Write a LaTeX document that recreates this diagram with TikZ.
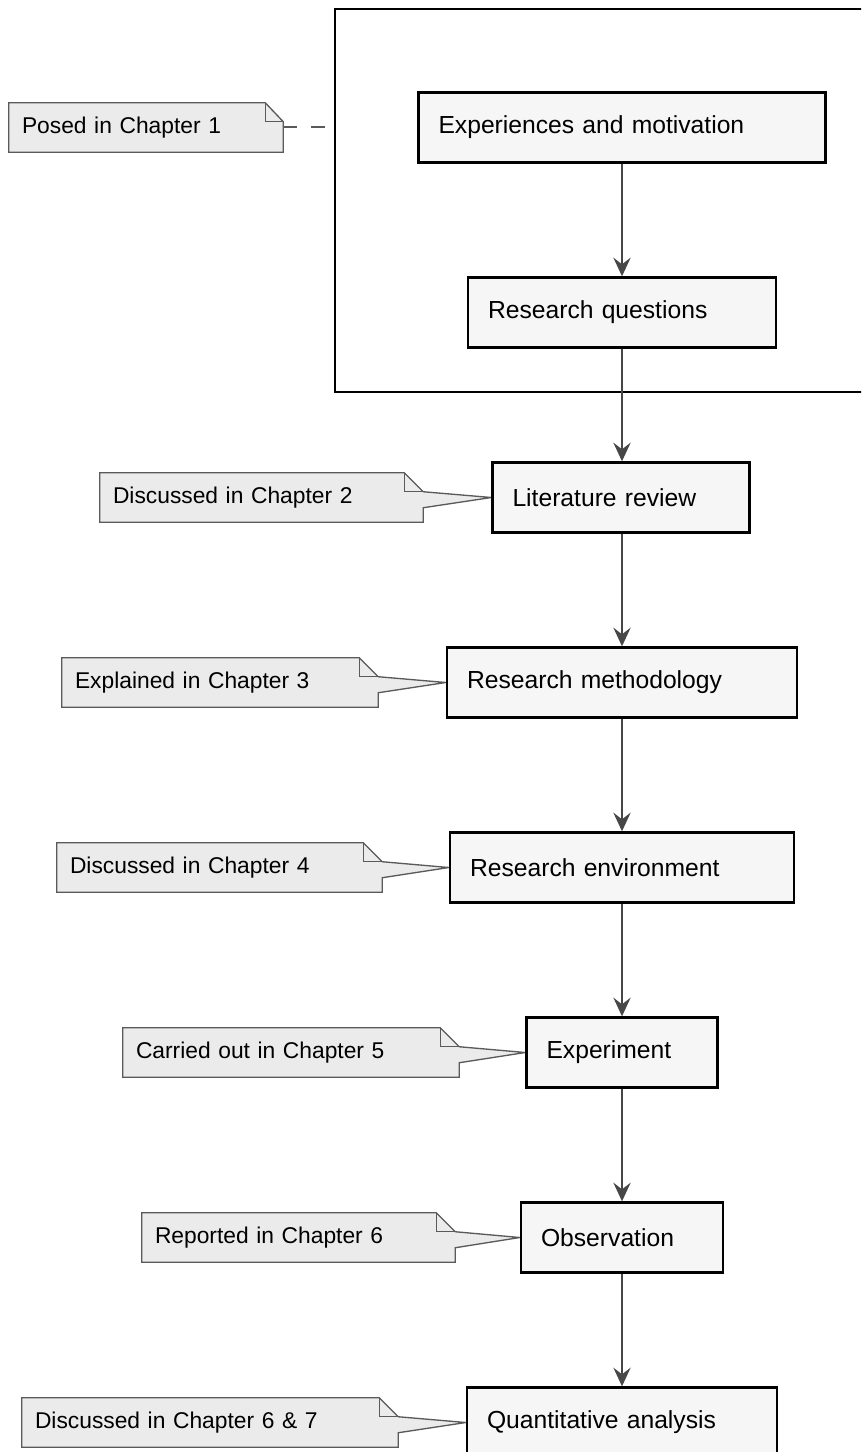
\documentclass[tikz,border=0pt]{standalone}
\usepackage{fontspec}
\setmainfont{Liberation Sans}
\usetikzlibrary{arrows.meta,calc,backgrounds}

\definecolor{boxfill}{HTML}{F6F6F6}
\definecolor{notefill}{HTML}{EBEBEB}
\definecolor{noteedge}{HTML}{5A5A5A}
\definecolor{flowline}{HTML}{474747}

\tikzset{
  stagebox/.style={draw=black, line width=1.8pt, fill=boxfill,
    inner xsep=15pt, inner ysep=0pt, minimum height=52.5pt,
    text width=#1, align=left, font=\fontsize{18.5}{22}\selectfont},
  notebox/.style={inner xsep=9.75pt, inner ysep=0pt, minimum height=36.75pt,
    text width=#1, align=left, font=\fontsize{17.1}{20}\selectfont},
  noteshape/.style={draw=noteedge, line width=1pt, fill=notefill, line join=miter},
  notefold/.style={draw=noteedge, line width=1pt},
  flow/.style={draw=flowline, line width=1.3pt,
    -{Stealth[length=14pt,width=13pt,inset=5pt]}},
  scopeframe/.style={draw=black, line width=2.1pt, minimum width=423.75pt,
    minimum height=287.25pt, inner sep=0pt},
  posedlink/.style={draw=noteedge, line width=1.2pt, dash pattern=on 10.5pt off 10.5pt},
}

% callout note with a folded corner and a wedge pointing at a box
\newcommand\calloutnote[2]{%
  \path[noteshape] (#1.north west) -- ($(#1.north east)+(-19,0)$)
    -- ($(#1.north east)+(0,19)$) -- (#2.west)
    -- ($(#1.north east)+(0,35)$) -- (#1.south east)
    -- (#1.south west) -- cycle;
  \path[notefold] ($(#1.north east)+(-19,0)$) -- ++(0,19) -- ++(19,0);
}

\begin{document}
\begin{tikzpicture}[x=0.75pt, y=-0.75pt]
  \useasboundingbox (0,0) rectangle (861,1452);
  \clip (0,0) rectangle (861,1452);

  % enclosing frame of the opening chapter
  \node[scopeframe] (frame) at (617.5,200.5) {};

  % stages of the research
  \node[stagebox=275.25pt] (b1) at (622,127.5)  {Experiences and motivation};
  \node[stagebox=201pt]    (b2) at (622,312.5)  {Research questions};
  \node[stagebox=162.75pt] (b3) at (621,497.5)  {Literature review};
  \node[stagebox=232.5pt]  (b4) at (622,682.5)  {Research methodology};
  \node[stagebox=228pt]    (b5) at (622,867.5)  {Research environment};
  \node[stagebox=113.25pt] (b6) at (622,1052.5) {Experiment};
  \node[stagebox=121.5pt]  (b7) at (622,1237.5) {Observation};
  \node[stagebox=202.5pt]  (b8) at (622,1422.5) {Quantitative analysis};

  % chapter notes
  \node[notebox=186pt]    (n1) at (146,127.5)    {Posed in Chapter 1};
  \node[notebox=222.75pt] (n2) at (261.5,497.5)  {Discussed in Chapter 2};
  \node[notebox=217.5pt]  (n3) at (220,682.5)    {Explained in Chapter 3};
  \node[notebox=224.25pt] (n4) at (219.5,867.5)  {Discussed in Chapter 4};
  \node[notebox=232.5pt]  (n5) at (291,1052.5)   {Carried out in Chapter 5};
  \node[notebox=215.25pt] (n6) at (298.5,1237.5) {Reported in Chapter 6};
  \node[notebox=262.5pt]  (n7) at (210,1422.5)   {Discussed in Chapter 6 \& 7};

  \begin{scope}[on background layer]
    \path[noteshape] (n1.north west) -- ($(n1.north east)+(-18,0)$)
      -- ($(n1.north east)+(0,19)$) -- (n1.south east)
      -- (n1.south west) -- cycle;
    \path[notefold] ($(n1.north east)+(-18,0)$) -- ++(0,19) -- ++(18,0);
    \calloutnote{n2}{b3}
    \calloutnote{n3}{b4}
    \calloutnote{n4}{b5}
    \calloutnote{n5}{b6}
    \calloutnote{n6}{b7}
    \calloutnote{n7}{b8}
  \end{scope}

  % dashed link from the first note to the frame
  \coordinate (linkstart) at ($(n1.north east)+(0,24)$);
  \draw[posedlink] (linkstart) -- (linkstart -| frame.west);

  % flow between stages
  \draw[flow] (b1.south) -- (b1.south |- b2.north);
  \draw[flow] (b2.south) -- (b2.south |- b3.north);
  \draw[flow] (b3.south -| b4.south) -- (b4.north);
  \draw[flow] (b4.south) -- (b4.south |- b5.north);
  \draw[flow] (b5.south) -- (b5.south |- b6.north);
  \draw[flow] (b6.south) -- (b6.south |- b7.north);
  \draw[flow] (b7.south) -- (b7.south |- b8.north);
\end{tikzpicture}
\end{document}
